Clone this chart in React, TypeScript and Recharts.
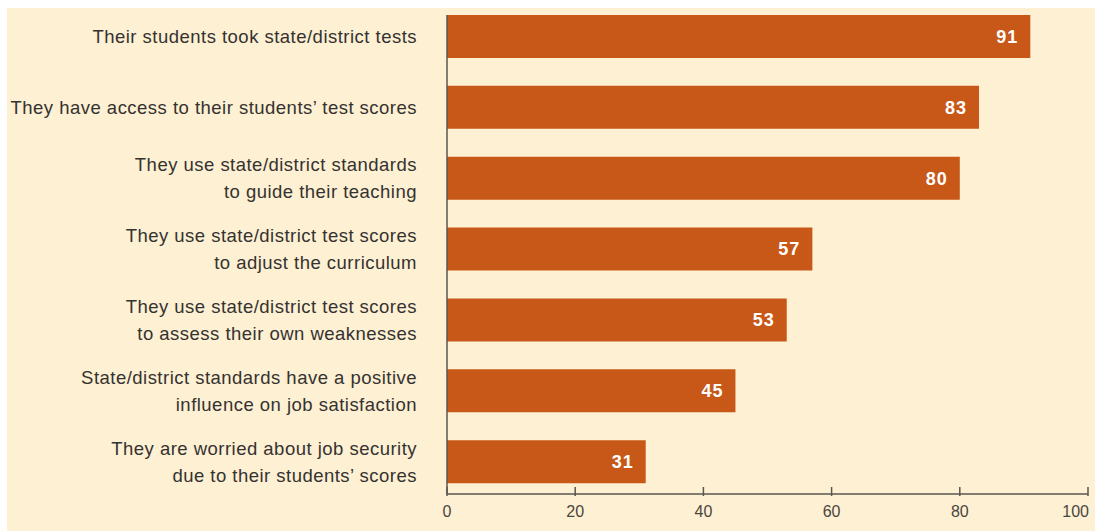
import { Bar, BarChart, LabelList, XAxis, YAxis } from "recharts";

const categories = [
  ["Their students took state/district tests"],
  ["They have access to their students\u2019 test scores"],
  ["They use state/district standards", "to guide their teaching"],
  ["They use state/district test scores", "to adjust the curriculum"],
  ["They use state/district test scores", "to assess their own weaknesses"],
  ["State/district standards have a positive", "influence on job satisfaction"],
  ["They are worried about job security", "due to their students\u2019 scores"],
];
const values = [91, 83, 80, 57, 53, 45, 31];
const xTicks = [0, 20, 40, 60, 80, 100];

const FONT = '"Liberation Sans", Arial, Helvetica, sans-serif';
const BAR = "#c75818";
const BG = "#fdf0d3";
const AXIS = "#5a5650";

const rows = categories.map((lines, i) => ({ key: String(i), value: values[i] }));

function CategoryTick(props: any) {
  const { x, y, payload } = props;
  const lines = categories[Number(payload.value)];
  const gap = 27;
  const start = y - ((lines.length - 1) * gap) / 2;
  return (
    <text
      x={x}
      y={start}
      textAnchor="end"
      fill="#353230"
      fontFamily={FONT}
      fontSize={18.5}
      letterSpacing={0.48}
    >
      {lines.map((l, i) => (
        <tspan key={i} x={x} y={start + i * gap} dy="0.36em">
          {l}
        </tspan>
      ))}
    </text>
  );
}

function ValueTick(props: any) {
  const { x, y, payload } = props;
  const last = payload.value === 100;
  return (
    <g>
      <line x1={x} x2={x} y1={y - 9} y2={y} stroke={AXIS} strokeWidth={1.5} />
      <text
        x={last ? x + 1 : x}
        y={y + 21}
        textAnchor={last ? "end" : "middle"}
        fill="#4a4640"
        fontFamily={FONT}
        fontSize={16}
      >
        {payload.value}
      </text>
    </g>
  );
}

export default function App() {
  return (
    <div style={{ position: "fixed", left: 0, top: 0, width: 1095, height: 531, background: "#fff" }}>
      <div style={{ position: "absolute", left: 7, top: 8, right: 0, bottom: 0, background: BG }} />
      <div style={{ position: "absolute", left: 0, top: 0 }}>
        <BarChart
          width={1095}
          height={531}
          data={rows}
          layout="vertical"
          margin={{ top: 15, right: 7, bottom: 0, left: 0 }}
          barSize={43}
        >
          <XAxis
            type="number"
            domain={[0, 100]}
            ticks={xTicks}
            height={37}
            axisLine={{ stroke: AXIS, strokeWidth: 1.5 }}
            tickLine={false}
            tickSize={0}
            tick={<ValueTick />}
            interval={0}
          />
          <YAxis
            type="category"
            dataKey="key"
            width={447}
            padding={{ top: -14, bottom: -3 }}
            axisLine={{ stroke: AXIS, strokeWidth: 1.5 }}
            tickLine={false}
            tickSize={0}
            tickMargin={30}
            tick={<CategoryTick />}
            interval={0}
          />
          <Bar dataKey="value" fill={BAR} isAnimationActive={false}>
            <LabelList
              dataKey="value"
              position="insideRight"
              offset={12}
              fill="#fff"
              fontFamily={FONT}
              fontWeight="bold"
              fontSize={18}
              letterSpacing={1}
            />
          </Bar>
        </BarChart>
      </div>
    </div>
  );
}
